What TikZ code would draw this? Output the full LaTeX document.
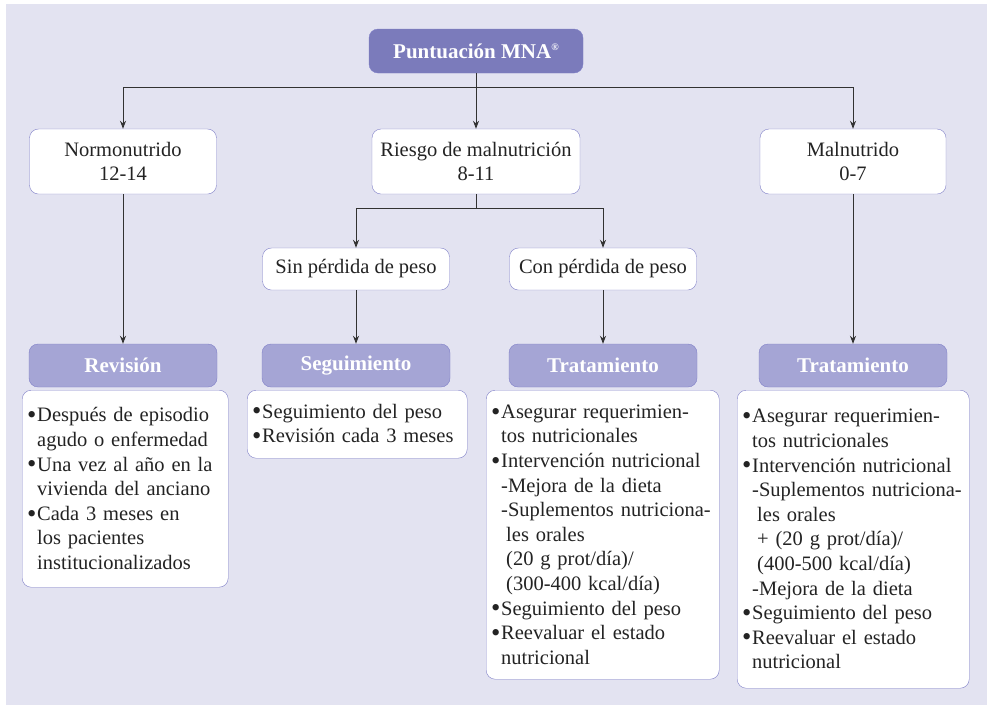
\documentclass[tikz,border=0pt]{standalone}
\usepackage{fontspec}
\setmainfont{Liberation Serif}
\usetikzlibrary{arrows.meta}

\definecolor{bgcol}{RGB}{227,227,241}
\definecolor{boxline}{RGB}{128,128,200}
\definecolor{hdrfill}{RGB}{165,165,213}
\definecolor{topfill}{RGB}{123,123,187}
\definecolor{linecol}{RGB}{50,50,50}
\definecolor{txtcol}{RGB}{35,35,35}

\newcommand{\bul}{\makebox[10pt][l]{\raisebox{-1.7pt}{\scalebox{1.3}{\textbullet}}}}
\newcommand{\ind}{\hspace*{10pt}}

\tikzset{
  lvl/.style={draw=boxline, fill=white, rounded corners=9pt, align=center, text=txtcol,
    font=\fontsize{20.5}{24}\selectfont, inner sep=2pt},
  hdr/.style={draw=boxline, fill=hdrfill, rounded corners=9pt, text=white,
    font=\bfseries\fontsize{21}{24}\selectfont, minimum width=188pt, minimum height=43pt},
  body/.style={draw=boxline, fill=white, rounded corners=9pt, anchor=north west, text=txtcol,
    align=left, inner xsep=5pt, inner ysep=2pt, font=\fontsize{20.5}{24.6}\selectfont},
  arr/.style={draw=linecol, line width=0.9pt, -{Stealth[length=8pt,width=6pt]}}
}

\begin{document}
\begin{tikzpicture}[x=1pt,y=-1pt]
  % fondo
  \fill[white] (0,0) rectangle (987,705);
  \fill[bgcol] (6,4) rectangle (987,705);

  \node[draw=boxline, fill=topfill, rounded corners=9pt, text=white,
        font=\bfseries\fontsize{21}{24}\selectfont,
        minimum width=214pt, minimum height=44pt] (mna) at (476,51)
        {Puntuación MNA\raisebox{8pt}{\fontsize{10}{10}\selectfont\textregistered}};

  \node[lvl, minimum width=187pt, minimum height=65pt] (normo) at (123,161.5) {Normonutrido\\12-14};
  \node[lvl, minimum width=208pt, minimum height=65pt] (riesgo) at (476,161.5) {Riesgo de malnutrición\\8-11};
  \node[lvl, minimum width=186pt, minimum height=65pt] (malnu) at (853,161.5) {Malnutrido\\0-7};

  \node[lvl, minimum width=187pt, minimum height=42pt] (sin) at (356,269) {Sin pérdida de peso};
  \node[lvl, minimum width=187pt, minimum height=42pt] (con) at (603,269) {Con pérdida de peso};

  \node[hdr] (revh) at (123,365.5) {Revisión};
  \node[hdr] (segh) at (356,365.5) {Seguimiento};
  \node[hdr] (trah1) at (603,365.5) {Tratamiento};
  \node[hdr] (trah2) at (853,365.5) {Tratamiento};

  \node[body, text width=196pt, minimum height=197pt] (revb) at (22,390)
    {\bul Después de episodio\\
     \ind agudo o enfermedad\\
     \bul Una vez al año en la\\
     \ind vivienda del anciano\\
     \bul Cada 3 meses en\\
     \ind los pacientes\\
     \ind institucionalizados};
  \node[body, text width=210pt, minimum height=68pt] (segb) at (247,390)
    {\bul Seguimiento del peso\\
     \bul Revisión cada 3 meses};
  \node[body, text width=223pt, minimum height=289pt] (trab1) at (486,390)
    {\bul Asegurar requerimien-\\
     \ind tos nutricionales\\
     \bul Intervención nutricional\\
     \ind -Mejora de la dieta\\
     \ind -Suplementos nutriciona-\\
     \ind\hspace*{5pt}les orales\\
     \ind\hspace*{5pt}(20 g prot/día)/\\
     \ind\hspace*{5pt}(300-400 kcal/día)\\
     \bul Seguimiento del peso\\
     \bul Reevaluar el estado\\
     \ind nutricional};
  \node[body, text width=222pt, minimum height=298pt] (trab2) at (737,390)
    {\bul Asegurar requerimien-\\
     \ind tos nutricionales\\
     \bul Intervención nutricional\\
     \ind -Suplementos nutriciona-\\
     \ind\hspace*{5pt}les orales\\
     \ind\hspace*{5pt}+ (20 g prot/día)/\\
     \ind\hspace*{5pt}(400-500 kcal/día)\\
     \ind -Mejora de la dieta\\
     \bul Seguimiento del peso\\
     \bul Reevaluar el estado\\
     \ind nutricional};

  % conectores
  \coordinate (j1) at (476,87);
  \coordinate (j2) at (476,208);
  \draw[draw=linecol, line width=0.9pt] (mna.south) -- (j1);
  \draw[arr] (j1) -| (normo.north);
  \draw[arr] (j1) -- (riesgo.north);
  \draw[arr] (j1) -| (malnu.north);
  \draw[draw=linecol, line width=0.9pt] (riesgo.south) -- (j2);
  \draw[arr] (j2) -| (sin.north);
  \draw[arr] (j2) -| (con.north);
  \draw[arr] (normo.south) -- (revh.north);
  \draw[arr] (sin.south) -- (segh.north);
  \draw[arr] (con.south) -- (trah1.north);
  \draw[arr] (malnu.south) -- (trah2.north);
\end{tikzpicture}
\end{document}
